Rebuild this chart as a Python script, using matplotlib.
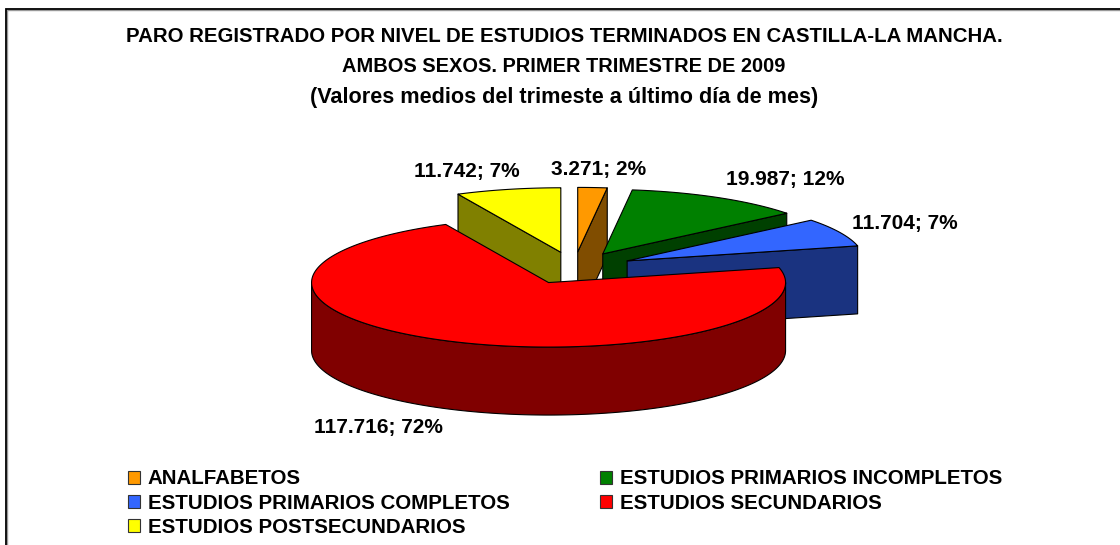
import numpy as np
import matplotlib
matplotlib.use("Agg")
import matplotlib.pyplot as plt
from matplotlib.patches import Polygon, Patch

# ---- data ----
categories = ["ANALFABETOS", "ESTUDIOS PRIMARIOS INCOMPLETOS", "ESTUDIOS PRIMARIOS COMPLETOS",
              "ESTUDIOS SECUNDARIOS", "ESTUDIOS POSTSECUNDARIOS"]
values = [3271, 19987, 11704, 117716, 11742]
data_labels = ["3.271; 2%", "19.987; 12%", "11.704; 7%", "117.716; 72%", "11.742; 7%"]
title_lines = ["PARO REGISTRADO POR NIVEL DE ESTUDIOS TERMINADOS EN CASTILLA-LA MANCHA.",
               "AMBOS SEXOS. PRIMER TRIMESTRE DE 2009",
               "(Valores medios del trimeste a último día de mes)"]
top_colors = ["#FF9900", "#008000", "#3366FF", "#FF0000", "#FFFF00"]
side_colors = ["#804D00", "#004000", "#1A3380", "#800000", "#808000"]

# ---- geometry (pixels) ----
CX, CY, A, B, DEPTH, EXPLODE = 574, 268, 237, 64.5, 68, 0.25
label_pos = [(599, 170), (785, 179), (905, 223), (378, 428), (467, 171)]
title_y = [36, 67, 98]
title_size = [14.7, 14.4, 15.6]
draw_order = [0, 4, 1, 2, 3]

plt.rcParams["font.family"] = ["Liberation Sans", "DejaVu Sans"]
fig = plt.figure(figsize=(11.2, 5.45), dpi=100)
ax = fig.add_axes([0, 0, 1, 1])
ax.set_xlim(0, 1120)
ax.set_ylim(545, 0)
ax.axis("off")

# cropped chart frame (only left and top edges remain in the crop)
ax.plot([7, 7, 1120], [545, 9.5, 9.5], color="#999999", lw=1.0, solid_joinstyle="miter")
ax.plot([6, 6, 1120], [545, 8.5, 8.5], color="black", lw=1.3, solid_joinstyle="miter")

fr = np.cumsum([0] + values) / sum(values) * 2 * np.pi
EDGE = dict(edgecolor="black", linewidth=0.8, joinstyle="round")


def pt(t, ox, oy, r=1.0, dz=0.0):
    return ox + r * A * np.sin(t), oy - r * B * np.cos(t) + dz


for i in draw_order:
    t0, t1 = fr[i], fr[i + 1]
    mid = (t0 + t1) / 2
    ox = CX + EXPLODE * A * np.sin(mid)
    oy = CY - EXPLODE * B * np.cos(mid)
    apex = (ox, oy)
    for t, vis in ((t0, np.sin(t0) < -1e-6), (t1, np.sin(t1) > 1e-6)):
        if vis:
            e = pt(t, ox, oy)
            ax.add_patch(Polygon([apex, e, (e[0], e[1] + DEPTH), (ox, oy + DEPTH)],
                                 facecolor=side_colors[i], **EDGE))
    lo, hi = max(t0, np.pi / 2), min(t1, 3 * np.pi / 2)
    if hi > lo:
        ts = np.linspace(lo, hi, 200)
        up = [pt(t, ox, oy) for t in ts]
        dn = [pt(t, ox, oy, dz=DEPTH) for t in ts[::-1]]
        ax.add_patch(Polygon(up + dn, facecolor=side_colors[i], **EDGE))
    ts = np.linspace(t0, t1, 200)
    ax.add_patch(Polygon([apex] + [pt(t, ox, oy) for t in ts], facecolor=top_colors[i], **EDGE))

for (x, y), s in zip(label_pos, data_labels):
    ax.text(x, y, s, ha="center", va="center", fontsize=15, fontweight="bold")

for y, s, fs in zip(title_y, title_lines, title_size):
    ax.text(564, y, s, ha="center", va="center", fontsize=fs, fontweight="bold")

order = [0, 2, 4, 1, 3]
handles = [Patch(facecolor=top_colors[i], edgecolor="#333333", linewidth=0.8) for i in order]
ax.legend(handles, [categories[i] for i in order], ncols=2, frameon=False,
          loc="upper left", bbox_to_anchor=(128 / 1120, 1 - 469.5 / 545), borderaxespad=0, borderpad=0,
          prop={"size": 14.8, "weight": "bold"}, handlelength=0.58, handleheight=0.58,
          handletextpad=0.39, labelspacing=0.25, columnspacing=4.39)

fig.savefig("out.png", dpi=100)
